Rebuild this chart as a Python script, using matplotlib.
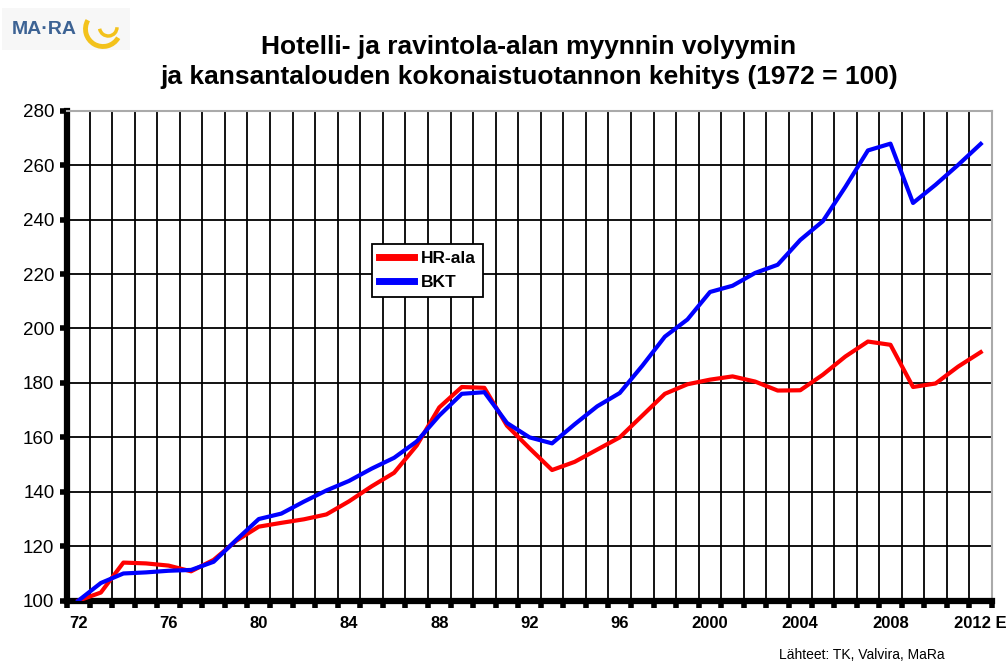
import matplotlib
matplotlib.use("Agg")
import matplotlib.pyplot as plt
from matplotlib.patches import Arc, Rectangle
import numpy as np

plt.rcParams['font.family'] = ['Liberation Sans', 'DejaVu Sans']

years = list(range(1972, 2013))
hr_ala = [100, 103, 114, 113.7, 112.9, 110.8, 115, 122, 127.2, 128.6,
          129.9, 131.7, 136.5, 142, 147, 157, 171, 178.5, 178.2, 164.3,
          156, 148, 151, 155.5, 160, 168, 176, 179.5, 181.2, 182.4,
          180.5, 177.2, 177.3, 183, 189.7, 195.2, 194, 178.5, 179.8, 186,
          191.3]
bkt = [100, 106.5, 110, 110.4, 111, 111.3, 114.3, 122.3, 130, 132,
       136.4, 140.5, 144, 148.5, 152.5, 158.5, 168, 176, 176.6, 165.3,
       160, 157.8, 164.8, 171.4, 176.3, 186.3, 197, 203.3, 213.4, 215.7,
       220.4, 223.4, 232.5, 239.4, 252, 265.4, 267.9, 246.1, 252.8, 260.1,
       267.8]
label_years = [1972, 1976, 1980, 1984, 1988, 1992, 1996, 2000, 2004, 2008, 2012]
label_texts = ["72", "76", "80", "84", "88", "92", "96", "2000", "2004", "2008", "2012 E"]
y_ticks = list(range(100, 281, 20))

title = "Hotelli- ja ravintola-alan myynnin volyymin\nja kansantalouden kokonaistuotannon kehitys (1972 = 100)"

fig = plt.figure(figsize=(10.08, 6.63), dpi=100)
ax = fig.add_axes([67/1008, 1-600.7/663, 925/1008, 490/663])

ax.plot(years, hr_ala, color='#ff0000', lw=3.0, label='HR-ala', solid_joinstyle='round', zorder=3)
ax.plot(years, bkt, color='#0000ff', lw=3.0, label='BKT', solid_joinstyle='round', zorder=4)

ax.set_xlim(years[0]-0.5, years[-1]+0.5)
ax.set_ylim(100, 280)

# category boundaries as minor ticks
bounds = np.arange(years[0]-0.5, years[-1]+0.51, 1.0)
ax.set_xticks(bounds, minor=True)
ax.set_xticks(label_years)
ax.set_xticklabels(label_texts, fontsize=12, fontweight='bold')
ax.tick_params(axis='x', which='major', length=0, pad=11)
ax.tick_params(axis='x', which='minor', length=5, width=4, direction='out', color='black')
ax.grid(True, which='minor', axis='x', color='black', lw=1.3)

ax.set_yticks(y_ticks)
ax.set_yticklabels([str(v) for v in y_ticks], fontsize=13.5)
ax.tick_params(axis='y', which='major', length=5, width=4, direction='out', color='black', pad=4)
ax.grid(True, which='major', axis='y', color='black', lw=1.3)
ax.set_axisbelow(True)

ax.spines['left'].set_linewidth(4.5)
ax.spines['bottom'].set_linewidth(4.5)
ax.spines['top'].set_color('#aaaaaa')
ax.spines['right'].set_color('#aaaaaa')
ax.spines['top'].set_linewidth(1.5)
ax.spines['right'].set_linewidth(1.5)

leg = ax.legend(loc='upper left', bbox_to_anchor=(0.33, 0.728), frameon=True,
                fancybox=False, shadow=False, prop={'weight': 'bold', 'size': 12.5},
                handlelength=2.0, handletextpad=0.4, borderpad=0.4, labelspacing=0.5,
                borderaxespad=0)
leg.get_frame().set_edgecolor('black')
leg.get_frame().set_linewidth(1.3)
leg.get_frame().set_alpha(1)
for h in leg.get_lines():
    h.set_linewidth(5)

fig.text(529/1008, 1-62/663, title, fontsize=19, fontweight='bold',
         ha='center', va='center', linespacing=1.3)

# logo
fig.add_artist(Rectangle((2/1008, 1-50/663), 128/1008, 42/663, transform=fig.transFigure,
                         facecolor='#f7f7f7', edgecolor='none', zorder=-5))
fig.text(12/1008, 1-29/663, "MA·RA", fontsize=14, fontweight='bold', color='#3d6394',
         va='center', ha='left', zorder=5)
lax = fig.add_axes([80/1008, 1-50/663, 46/1008, 42/663], zorder=5)
lax.set_xlim(-1.2, 1.2)
lax.set_ylim(-1.2, 1.2)
lax.set_aspect('equal')
lax.axis('off')
lax.add_patch(Arc((0, 0), 2.0, 2.0, theta1=150, theta2=330, color='#f3c21b', lw=3.5))
lax.add_patch(Arc((0.3, 0.1), 1.0, 1.0, theta1=190, theta2=360, color='#f3c21b', lw=2.5))

fig.text(945/1008, 1-655/663, "Lähteet: TK, Valvira, MaRa", fontsize=10, ha='right', va='center')

fig.savefig("out.png", dpi=100)
